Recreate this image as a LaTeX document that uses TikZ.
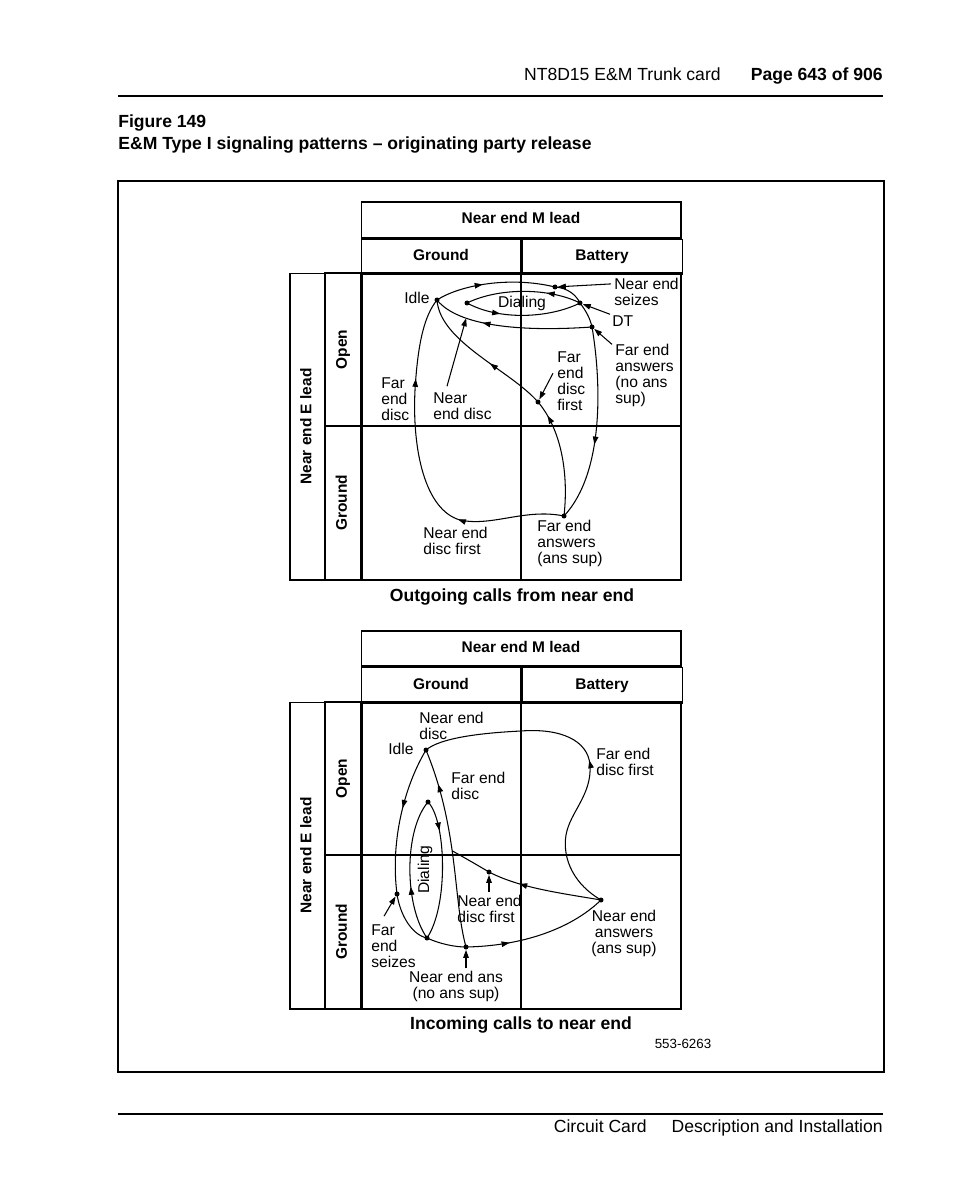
\documentclass[tikz,border=0pt]{standalone}
\usepackage{fontspec}
\setmainfont{Liberation Sans}
\usetikzlibrary{arrows.meta,positioning,calc,decorations.markings}

\begin{document}
\begin{tikzpicture}[
    x=0.02cm, y=-0.02cm,
    cell/.style={
        draw,
        line width=0.6pt,
        inner sep=0pt,
        text height=6.4pt,
        text depth=1.9pt,
        font=\fontsize{8.8}{10}\selectfont\bfseries
    },
    lbl/.style={inner sep=0pt, align=left, font=\fontsize{8.9}{9.1}\selectfont},
    head/.style={inner sep=0pt, text height=7.3pt, text depth=2.1pt, font=\fontsize{10}{12}\selectfont},
    dot/.style={circle, fill, inner sep=0pt, minimum size=1mm},
    flow/.style={line width=0.6pt},
    ptr/.style={line width=0.6pt, -{Triangle[length=1.6mm, width=1.1mm]}},
    midarrow/.style={postaction={decorate, decoration={markings,
        mark=at position #1 with {\arrow{Triangle[length=1.6mm, width=1.1mm]}}}}}
]
\useasboundingbox (0,0) rectangle (954,1202);

\node[head, anchor=east] (card) at (721,76) {NT8D15 E\&M Trunk card};
\node[head, anchor=east, font=\fontsize{10}{12}\selectfont\bfseries] (page) at (883,76) {Page 643 of 906};
\draw[line width=1.3pt] (118,96) -- (883,96);
\node[head, anchor=west, font=\fontsize{10}{12}\selectfont\bfseries] (fignum) at (118,123) {Figure 149};
\node[head, anchor=west, font=\fontsize{10}{12}\selectfont\bfseries] (figtitle) at (118,145) {E\&M Type I signaling patterns -- originating party release};
\draw[line width=1.1pt] (118,181) rectangle (884,1072);

% outgoing calls
\node[cell, minimum width=6.4cm, minimum height=0.72cm] (mlead1) at (521,220) {Near end M lead};
\node[cell, minimum width=3.2cm, minimum height=0.7cm, below right=0cm of mlead1.south west] (mgnd1) {Ground};
\node[cell, minimum width=3.2cm, minimum height=0.7cm, right=0cm of mgnd1] (mbat1) {Battery};
\node[cell, rotate=90, minimum width=6.14cm, minimum height=0.7cm] (elead1) at (307.5,426.5) {Near end E lead};
\node[cell, rotate=90, minimum width=3.06cm, minimum height=0.72cm] (eopen1) at (343,349.5) {Open};
\node[cell, rotate=90, minimum width=3.08cm, minimum height=0.72cm] (egnd1) at (343,503) {Ground};
\draw[flow] (361,273) rectangle (681,580) (521,273) -- (521,580) (361,426) -- (681,426);
\draw[line width=1.7pt] (681,273) -- (361,273) -- (361,580);

\node[dot] (tidle) at (437,300) {};
\node[dot] (tdial) at (467,303) {};
\node[dot] (tseize) at (555,287) {};
\node[dot] (tdt) at (580,303) {};
\node[dot] (tfea) at (592,327) {};
\node[dot] (tfdf) at (538,402) {};
\node[dot] (tans) at (564,516) {};

\draw[flow, midarrow=0.4] (tidle.center) .. controls (460,285) and (510,276) .. (tseize.center);
\draw[flow] (tseize.center) .. controls (568,288) and (576,295) .. (tdt.center);
\draw[flow] (tdt.center) .. controls (586,311) and (590,318) .. (tfea.center);
\draw[flow, midarrow=0.3] (tdial.center) .. controls (500,321) and (550,318) .. (tdt.center);
\draw[flow, midarrow=0.3] (tdt.center) .. controls (550,288) and (500,287) .. (tdial.center);
\draw[flow, midarrow=0.68] (tfea.center) .. controls (520,332) and (458,326) .. coordinate[pos=0.7] (tned) (tidle.center);
\draw[flow, midarrow=0.6] (tfea.center) .. controls (601,380) and (605,472) .. (tans.center);
\draw[flow, midarrow=0.31, midarrow=0.76] (tans.center) .. controls (525,508) and (492,527) .. (460,520)
    .. controls (425,510) and (412,450) .. (415,390) .. controls (418,340) and (425,315) .. (tidle.center);
\draw[flow, midarrow=0.86] (tans.center) .. controls (569,470) and (560,428) .. (tfdf.center);
\draw[flow, midarrow=0.42] (tfdf.center) .. controls (510,370) and (440,342) .. (tidle.center);

\node[lbl] (tidlel) at (417,298) {Idle};
\node[lbl] (tdiall) at (522,303) {Dialing};
\node[lbl, anchor=west] (lseize) at (614,292) {Near end\\seizes};
\node[lbl, anchor=west] (ldt) at (612,321) {DT};
\node[lbl, anchor=west] (lfea) at (615,375) {Far end\\answers\\(no ans\\sup)};
\node[lbl, anchor=west] (lfdf) at (557,381) {Far\\end\\disc\\first};
\node[lbl, anchor=west] (lfed) at (381,399) {Far\\end\\disc};
\node[lbl, anchor=west] (lned) at (433,406) {Near\\end disc};
\node[lbl, anchor=west] (lndf) at (423,541) {Near end\\disc first};
\node[lbl, anchor=west] (lfaa) at (537,543) {Far end\\answers\\(ans sup)};

\draw[ptr] ($(lseize.north west)+(-3,6)$) -- (tseize);
\draw[ptr] ($(ldt.north west)+(-2,-1)$) -- (tdt);
\draw[ptr] ($(lfea.north west)+(-3,1)$) -- (tfea);
\draw[ptr] ($(lned.north west)+(14,-6)$) -- (tned);
\draw[ptr] ($(lfdf.north west)+(-4,22)$) -- (tfdf);

\node[head, font=\fontsize{10}{12}\selectfont\bfseries] (cap1) at (512,597) {Outgoing calls from near end};

% incoming calls
\node[cell, minimum width=6.4cm, minimum height=0.7cm] (mlead2) at (521,648.5) {Near end M lead};
\node[cell, minimum width=3.2cm, minimum height=0.72cm, below right=0cm of mlead2.south west] (mgnd2) {Ground};
\node[cell, minimum width=3.2cm, minimum height=0.72cm, right=0cm of mgnd2] (mbat2) {Battery};
\node[cell, rotate=90, minimum width=6.14cm, minimum height=0.7cm] (elead2) at (307.5,855.5) {Near end E lead};
\node[cell, rotate=90, minimum width=3.06cm, minimum height=0.72cm] (eopen2) at (343,778.5) {Open};
\node[cell, rotate=90, minimum width=3.08cm, minimum height=0.72cm] (egnd2) at (343,932) {Ground};
\draw[flow] (361,702) rectangle (681,1009) (521,702) -- (521,1009) (361,855) -- (681,855);
\draw[line width=1.7pt] (681,702) -- (361,702) -- (361,1009);

\node[dot] (bidle) at (426,750) {};
\node[dot] (bdtop) at (428,802) {};
\node[dot] (bfes) at (397,894) {};
\node[dot] (bdbot) at (427,938) {};
\node[dot] (bnea) at (466,947) {};
\node[dot] (bndf) at (489,872) {};
\node[dot] (bans) at (601,900) {};

\draw[flow, midarrow=0.42] (bidle.center) .. controls (405,785) and (390,840) .. (bfes.center);
\draw[flow] (bfes.center) .. controls (400,915) and (412,935) .. (bdbot.center);
\draw[flow, midarrow=0.38] (bdbot.center) .. controls (404,905) and (404,830) .. (bdtop.center);
\draw[flow, midarrow=0.22] (bdtop.center) .. controls (446,820) and (449,905) .. (bdbot.center);
\draw[flow] (bdbot.center) .. controls (440,944) and (455,947) .. (bnea.center);
\draw[flow, midarrow=0.3] (bnea.center) .. controls (520,946) and (570,930) .. (bans.center);
\draw[flow, midarrow=0.82] (bnea.center) .. controls (453,900) and (459,830) .. coordinate[pos=0.55] (bmerge) (bidle.center);
\draw[flow, midarrow=0.72] (bans.center) .. controls (560,893) and (520,888) .. (bndf.center);
\draw[flow] (bndf.center) .. controls (472,862) .. (bmerge);
\draw[flow, midarrow=0.47] (bans.center) .. controls (575,885) and (562,860) .. (566,835)
    .. controls (570,812) and (592,795) .. (590,765) .. controls (588,740) and (560,728) .. (521,731)
    .. controls (480,733) and (440,738) .. (bidle.center);

\node[lbl] (bidlel) at (401,749) {Idle};
\node[lbl, anchor=west] (lbned) at (419,726) {Near end\\disc};
\node[lbl, anchor=west] (lbfed) at (451,786) {Far end\\disc};
\node[lbl, anchor=west] (lbfdf) at (596,762) {Far end\\disc first};
\node[lbl, rotate=90] (bdiall) at (425,870) {Dialing};
\node[lbl, anchor=west] (lbndf) at (457,909) {Near end\\disc first};
\node[lbl, anchor=west] (lbfes) at (371,946) {Far\\end\\seizes};
\node[lbl, align=center] (lbnea) at (456,986) {Near end ans\\(no ans sup)};
\node[lbl, align=center] (lbnaa) at (624,933) {Near end\\answers\\(ans sup)};

\draw[ptr] ($(lbfes.north west)+(13,-8)$) -- (bfes);
\draw[ptr] ($(lbnea.north)+(10,-2)$) -- (bnea);
\draw[ptr] ($(lbndf.north west)+(32,-3)$) -- (bndf);

\node[head, font=\fontsize{10}{12}\selectfont\bfseries] (cap2) at (521,1025) {Incoming calls to near end};
\node[head, font=\fontsize{7.6}{9}\selectfont] (fignr) at (683,1044) {553-6263};

\draw[line width=1.3pt] (118,1114) -- (883,1114);
\node[head, anchor=east] (ccard) at (647,1128) {Circuit Card};
\node[head, anchor=east] (desc) at (883,1128) {Description and Installation};
\end{tikzpicture}
\end{document}
